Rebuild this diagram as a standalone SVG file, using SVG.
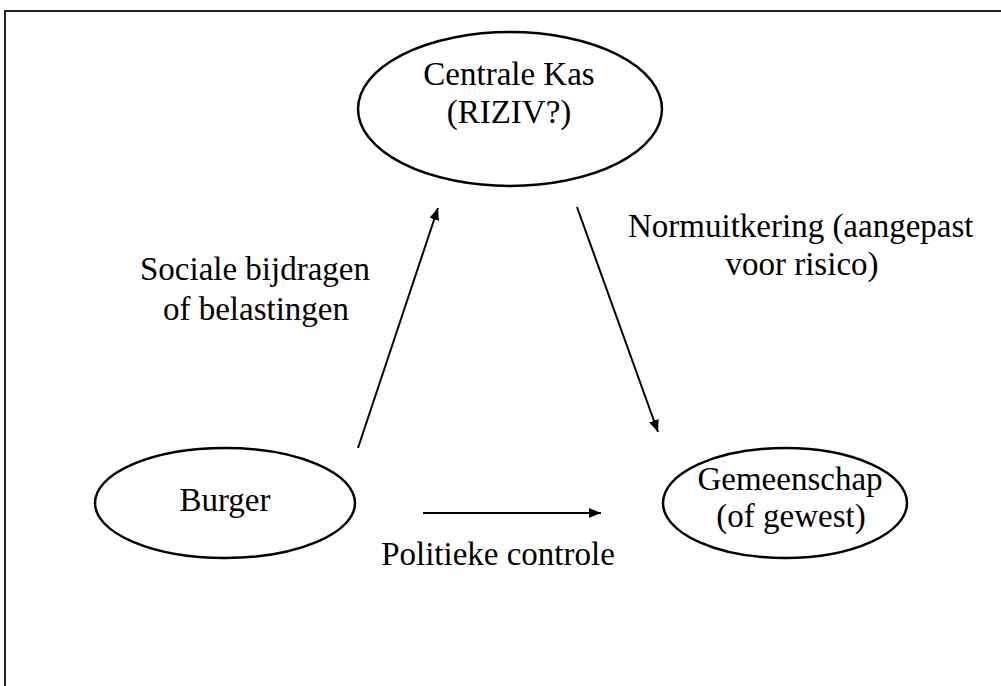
<svg xmlns="http://www.w3.org/2000/svg" width="1001" height="686" viewBox="0 0 1001 686">
<style>
text{font-family:"Liberation Serif","Times New Roman",serif;font-size:33px;fill:#000}
.node ellipse{fill:#fff;stroke:#000;stroke-width:2.5}
.conn line{stroke:#000;stroke-width:2}
</style>
<defs>
<marker id="ah" viewBox="0 0 12 10" refX="12" refY="5" markerWidth="12" markerHeight="10" markerUnits="userSpaceOnUse" orient="auto">
<path d="M0,0 L12,5 L0,10 Z" fill="#000"/>
</marker>
</defs>
<rect width="1001" height="686" fill="#fff"/>
<path d="M5,686 V11 H1001" fill="none" stroke="#222" stroke-width="2"/>
<g id="node-centrale-kas" class="node">
<ellipse cx="510" cy="109" rx="152" ry="77"/>
<text x="509" y="85" text-anchor="middle">Centrale Kas</text>
<text x="509" y="123" text-anchor="middle">(RIZIV?)</text>
</g>
<g id="node-burger" class="node">
<ellipse cx="225" cy="503" rx="130" ry="55"/>
<text x="225" y="511" text-anchor="middle">Burger</text>
</g>
<g id="node-gemeenschap" class="node">
<ellipse cx="785" cy="503" rx="122" ry="55"/>
<text x="790" y="490" text-anchor="middle">Gemeenschap</text>
<text x="791" y="527" text-anchor="middle">(of gewest)</text>
</g>
<g id="connectors" class="conn">
<line x1="358" y1="448" x2="438" y2="208" marker-end="url(#ah)"/>
<line x1="577" y1="207" x2="658" y2="432" marker-end="url(#ah)"/>
<line x1="423" y1="513" x2="601" y2="513" marker-end="url(#ah)"/>
</g>
<g id="labels">
<text x="255" y="280" text-anchor="middle">Sociale bijdragen</text>
<text x="256" y="320" text-anchor="middle">of belastingen</text>
<text x="628" y="237">Normuitkering (aangepast</text>
<text x="802" y="275" text-anchor="middle">voor risico)</text>
<text x="498" y="565" text-anchor="middle">Politieke controle</text>
</g>
</svg>
